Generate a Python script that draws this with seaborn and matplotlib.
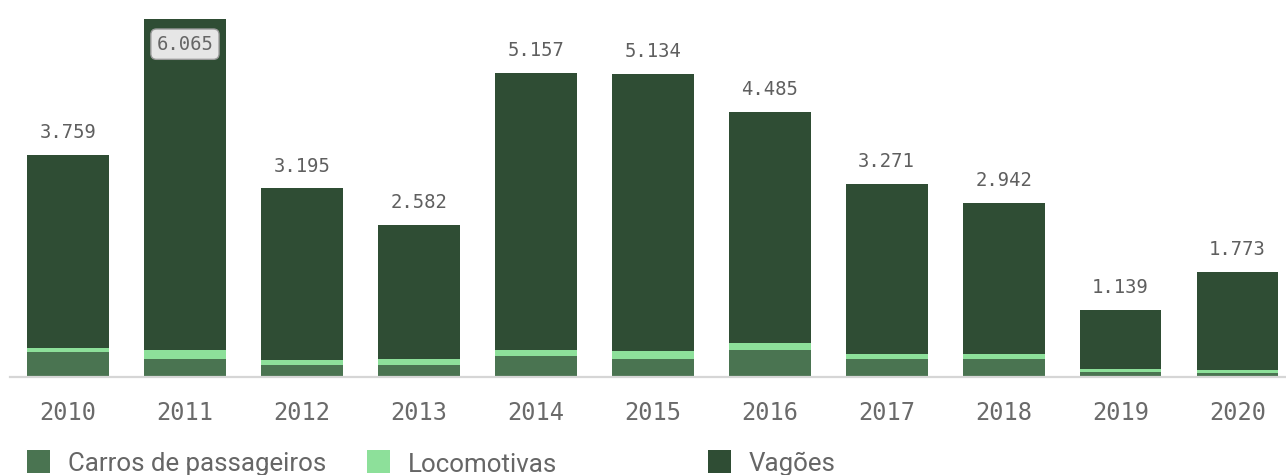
import numpy as np
import pandas as pd
import matplotlib
matplotlib.use("Agg")
import matplotlib.pyplot as plt
from matplotlib.patches import Rectangle
import seaborn as sns

years = ["2010", "2011", "2012", "2013", "2014", "2015", "2016", "2017", "2018", "2019", "2020"]
carros = [423, 311, 210, 210, 350, 311, 452, 311, 300, 85, 74]
locomotivas = [74, 141, 73, 90, 100, 130, 130, 85, 96, 56, 40]
vagoes = [3262, 5613, 2912, 2282, 4707, 4693, 3903, 2875, 2546, 998, 1659]
series_names = ["Carros de passageiros", "Locomotivas", "Vagões"]

c_carros = "#4A7451"
c_loco = "#8DE09A"
c_vag = "#2F4D34"

df = pd.DataFrame({"ano": years, "carros": carros, "loco": locomotivas, "vag": vagoes})
df["total"] = df["carros"] + df["loco"] + df["vag"]
df["cl"] = df["carros"] + df["loco"]

sns.set_theme(style="white")
W, H = 1286, 475
fig = plt.figure(figsize=(W / 100, H / 100), dpi=100)
ax_h = 6200 * 0.059
ax = fig.add_axes([10 / W, 98 / H, 1276 / W, ax_h / H])

for col, color in [("total", c_vag), ("cl", c_loco), ("carros", c_carros)]:
    sns.barplot(data=df, x="ano", y=col, color=color, width=0.70, ax=ax,
                saturation=1, edgecolor="none", linewidth=0)

ax.set_xlim(-0.496, 10.415)
ax.set_ylim(0, 6200)
ax.set_xlabel("")
ax.set_ylabel("")
ax.set_yticks([])
for s in ["top", "right", "left"]:
    ax.spines[s].set_visible(False)
ax.spines["bottom"].set_color("#d6d6d6")
ax.spines["bottom"].set_linewidth(1.6)
ax.tick_params(axis="x", length=0, pad=17, labelsize=17, labelcolor="#6a6a6a")
for lbl in ax.get_xticklabels():
    lbl.set_fontfamily("DejaVu Sans Mono")

def fmt(v):
    return f"{v:,}".replace(",", ".")

for i, t in enumerate(df["total"]):
    if t == df["total"].max():
        ax.annotate(fmt(t), (i, t), xytext=(0, -18), textcoords="offset points",
                    ha="center", va="center", fontsize=13.6, color="#666666",
                    family="DejaVu Sans Mono",
                    bbox=dict(boxstyle="round,pad=0.3,rounding_size=0.3", fc="#e6e6e6", ec="#9a9a9a", lw=1))
    else:
        ax.annotate(fmt(t), (i, t), xytext=(0, 12.2), textcoords="offset points",
                    ha="center", va="baseline", fontsize=13.6, color="#5f5f5f",
                    family="DejaVu Sans Mono")

# legend
leg_x = [27, 367, 708]
for x0, name, color in zip(leg_x, series_names, [c_carros, c_loco, c_vag]):
    fig.patches.append(Rectangle((x0 / W, 2 / H), 23 / W, 23 / H, transform=fig.transFigure,
                                 facecolor=color, edgecolor="none"))
    fig.text((x0 + 41) / W, 3.5 / H, name, ha="left", va="baseline", fontsize=18.6,
             color="#666666", family=["Roboto", "DejaVu Sans"])

fig.savefig("out.png", dpi=100)
